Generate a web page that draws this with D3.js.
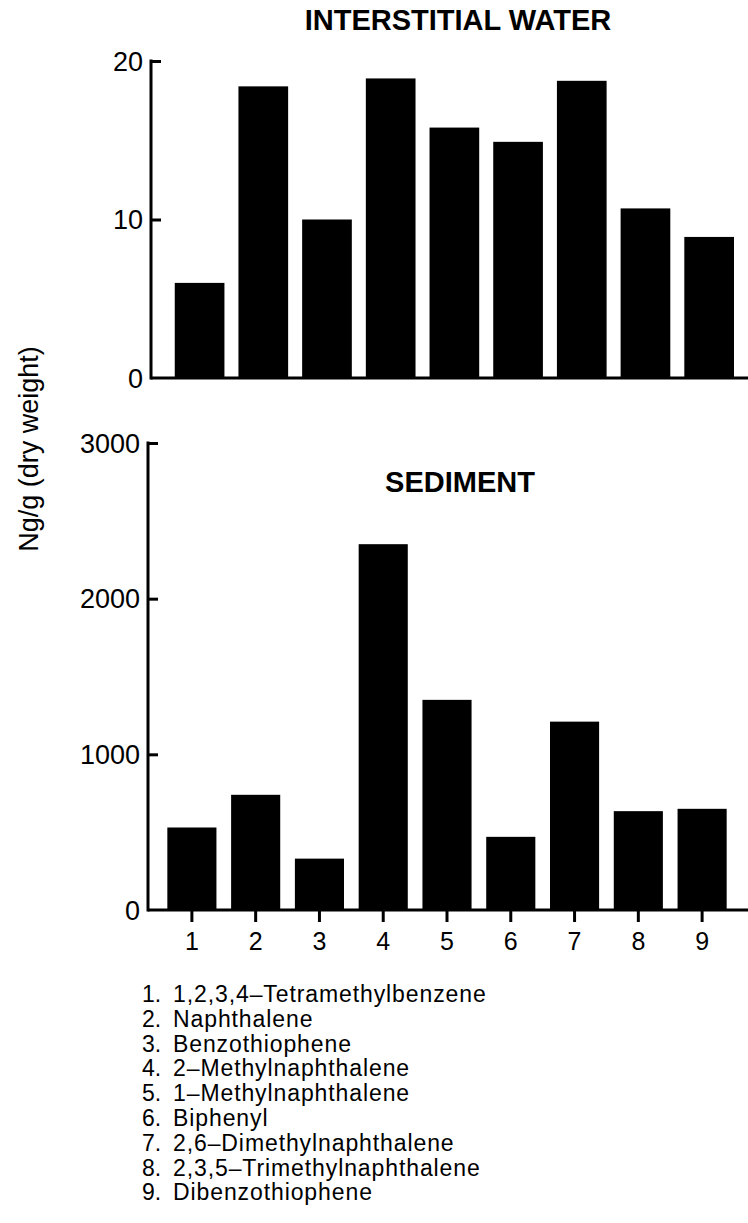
<!DOCTYPE html>
<html>
<head>
<meta charset="utf-8">
<script src="https://cdn.jsdelivr.net/npm/d3@7"></script>
<style>
  html, body { margin: 0; padding: 0; background: #fff; }
  svg { display: block; }
  text { font-family: "Liberation Sans", Arial, Helvetica, sans-serif; fill: #000; }
</style>
</head>
<body>
<script>
// ---- data ----
const categories = ["1", "2", "3", "4", "5", "6", "7", "8", "9"];
const waterValues = [6.0, 18.4, 10.0, 18.9, 15.8, 14.9, 18.75, 10.7, 8.9];
const sedimentValues = [530, 740, 330, 2350, 1350, 470, 1210, 635, 650];
const waterTicks = [0, 10, 20];
const sedimentTicks = [0, 1000, 2000, 3000];
const compoundNames = [
  "1,2,3,4–Tetramethylbenzene",
  "Naphthalene",
  "Benzothiophene",
  "2–Methylnaphthalene",
  "1–Methylnaphthalene",
  "Biphenyl",
  "2,6–Dimethylnaphthalene",
  "2,3,5–Trimethylnaphthalene",
  "Dibenzothiophene"
];
const titles = ["INTERSTITIAL WATER", "SEDIMENT"];
const yLabel = "Ng/g (dry weight)";

// ---- layout ----
const W = 748, H = 1223;
const svg = d3.select("body").append("svg").attr("width", W).attr("height", H);

function panel(cfg) {
  const g = svg.append("g");
  const x = d3.scaleBand().domain(categories).range(cfg.xRange)
    .paddingInner(cfg.padIn).paddingOuter(cfg.padIn / 2);
  const y = d3.scaleLinear().domain([0, cfg.max]).range([cfg.y0, cfg.yTop]);

  g.selectAll("rect.bar").data(cfg.values).join("rect")
    .attr("class", "bar")
    .attr("x", (d, i) => x(categories[i]))
    .attr("width", x.bandwidth())
    .attr("y", d => y(d))
    .attr("height", d => y(0) - y(d))
    .attr("fill", "#000");

  // y axis (ticks inward, labels outside)
  const yAxis = d3.axisRight(y).tickValues(cfg.ticks).tickSize(10).tickFormat("");
  const ya = g.append("g").attr("transform", `translate(${cfg.axisX},0)`).call(yAxis);
  ya.select(".domain").remove();
  ya.selectAll(".tick line").attr("stroke", "#000").attr("stroke-width", 3);
  ya.selectAll(".tick").filter(d => d === 0).remove();
  g.append("line").attr("x1", cfg.axisX).attr("x2", cfg.axisX)
    .attr("y1", y(cfg.max) - 1.5).attr("y2", y(0) + 1.5)
    .attr("stroke", "#000").attr("stroke-width", 3);
  g.selectAll("text.ytick").data(cfg.ticks).join("text")
    .attr("class", "ytick")
    .attr("x", cfg.axisX - 8)
    .attr("y", d => y(d))
    .attr("dy", "0.36em")
    .attr("text-anchor", "end")
    .attr("font-size", 27)
    .text(d => d);

  // baseline
  g.append("line").attr("x1", cfg.axisX).attr("x2", W)
    .attr("y1", y(0)).attr("y2", y(0))
    .attr("stroke", "#000").attr("stroke-width", 3);

  if (cfg.xTicks) {
    const xAxis = d3.axisBottom(x).tickSize(12).tickSizeOuter(0);
    const xa = g.append("g").attr("transform", `translate(0,${y(0)})`).call(xAxis);
    xa.select(".domain").remove();
    xa.selectAll(".tick line").attr("stroke", "#000").attr("stroke-width", 3);
    xa.selectAll(".tick text").attr("font-size", 25).attr("y", 22)
      .attr("fill", "#000")
      .attr("font-family", "'Liberation Sans', Arial, sans-serif");
  }

  g.append("text")
    .attr("x", cfg.titleX).attr("y", cfg.titleY)
    .attr("text-anchor", "middle")
    .attr("font-size", 29).attr("font-weight", "bold")
    .text(cfg.title);
  return g;
}

panel({
  values: waterValues, max: 20, ticks: waterTicks,
  xRange: [167.75, 741], padIn: 0.22,
  y0: 378, yTop: 61, axisX: 151,
  title: titles[0], titleX: 458, titleY: 30, xTicks: false
});

panel({
  values: sedimentValues, max: 3000, ticks: sedimentTicks,
  xRange: [160, 734], padIn: 0.23,
  y0: 910, yTop: 443, axisX: 148,
  title: titles[1], titleX: 460, titleY: 492, xTicks: true
});

// y-axis label
svg.append("text")
  .attr("transform", "translate(38,449) rotate(-90)")
  .attr("text-anchor", "middle")
  .attr("font-size", 27)
  .text(yLabel);

// legend
const legend = svg.append("g");
const lineH = 24.8;
legend.selectAll("text.num").data(compoundNames).join("text")
  .attr("class", "num")
  .attr("x", 142).attr("y", (d, i) => 1002 + i * lineH)
  .attr("font-size", 23)
  .text((d, i) => categories[i] + ".");
legend.selectAll("text.name").data(compoundNames).join("text")
  .attr("class", "name")
  .attr("x", 173).attr("y", (d, i) => 1002 + i * lineH)
  .attr("font-size", 23)
  .attr("letter-spacing", 0.9)
  .text(d => d);
</script>
</body>
</html>
